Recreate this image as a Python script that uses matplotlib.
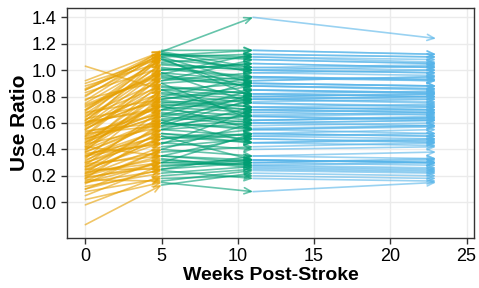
import matplotlib
matplotlib.use("Agg")
import matplotlib.pyplot as plt

plt.rcParams['font.family'] = ['Liberation Sans', 'DejaVu Sans']

# visit times (weeks post-stroke)
weeks = [0, 5.0, 11.0, 23.0]

# use ratio per subject at each visit
wk0 = [0.15, 0.18, 0.20, 0.22, 0.25, 0.28, 0.30, 0.33, 0.35, 0.38,
       0.40, 0.42, 0.45, 0.48, 0.50, 0.52, 0.55, 0.58, 0.60, 0.62,
       0.65, 0.68, 0.70, 0.72, 0.75, 0.78, 0.80, 0.83, 0.85, 0.88,
       0.92, 1.03, -0.17, -0.02, 0.02, 0.05, 0.08, 0.10, 0.12, 0.16,
       0.19, 0.24, 0.27, 0.31, 0.36, 0.41, 0.44, 0.47, 0.53, 0.57,
       0.63, 0.67, 0.73, 0.40, 0.25, 0.20, 0.15, 0.35, 0.45, 0.55,
       0.30, 0.18, 0.60, 0.50, 0.38, 0.70, 0.42, 0.22, 0.27, 0.85,
       0.10, 0.14, 0.21, 0.26, 0.29, 0.34, 0.37, 0.43, 0.46, 0.49,
       0.51, 0.54, 0.56, 0.59, 0.61, 0.64, 0.66, 0.69, 0.74, 0.77,
       0.81, 0.86, 0.90, 0.32, 0.39, 0.17, 0.23, 0.58, 0.48, 0.62]
wk5 = [0.30, 0.55, 0.42, 0.60, 0.25, 0.70, 0.52, 0.80, 0.45, 0.62,
       0.75, 0.35, 0.85, 0.68, 0.95, 0.58, 0.90, 1.00, 0.72, 1.05,
       0.88, 0.78, 1.10, 0.98, 1.08, 0.92, 1.15, 1.02, 1.12, 1.06,
       1.14, 0.85, 0.13, 0.20, 0.15, 0.28, 0.18, 0.32, 0.22, 0.40,
       0.27, 0.48, 0.38, 0.65, 0.50, 0.82, 0.57, 0.73, 0.67, 0.94,
       0.76, 1.04, 0.96, 0.63, 0.45, 0.35, 0.24, 0.55, 0.70, 0.87,
       0.48, 0.30, 0.83, 0.74, 0.60, 1.00, 0.77, 0.33, 0.52, 1.12,
       0.25, 0.40, 0.50, 0.58, 0.35, 0.62, 0.44, 0.90, 0.66, 0.73,
       0.98, 0.60, 0.80, 1.10, 0.70, 1.12, 0.92, 1.08, 0.97, 1.13,
       1.11, 1.14, 1.09, 0.55, 0.85, 0.16, 0.30, 0.78, 0.65, 1.01]
wk11 = [0.32, 0.50, 0.48, 0.55, 0.30, 0.78, 0.45, 0.72, 0.52, 0.65,
        0.80, 0.30, 0.90, 0.62, 0.88, 0.66, 0.95, 1.05, 0.68, 1.00,
        0.82, 0.85, 1.12, 0.92, 1.02, 0.98, 1.15, 0.95, 1.08, 1.10,
        1.40, 0.80, 0.22, 0.25, 0.08, 0.30, 0.20, 0.28, 0.27, 0.35,
        0.32, 0.55, 0.42, 0.58, 0.45, 0.75, 0.62, 0.78, 0.60, 0.88,
        0.70, 1.00, 0.90, 0.68, 0.40, 0.32, 0.18, 0.60, 0.65, 0.82,
        0.52, 0.28, 0.78, 0.70, 0.56, 1.05, 0.72, 0.26, 0.48, 1.10,
        0.35, 0.60, 0.32, 0.78, 0.50, 0.45, 0.70, 0.62, 0.85, 0.55,
        0.75, 0.82, 0.95, 0.90, 0.92, 1.00, 1.08, 0.85, 1.12, 0.98,
        1.15, 1.02, 0.80, 0.72, 0.65, 0.24, 0.52, 0.88, 0.76, 0.94]
wk23 = [0.30, 0.52, 0.45, 0.58, 0.28, 0.75, 0.48, 0.70, 0.55, 0.62,
        0.82, 0.33, 0.88, 0.65, 0.85, 0.68, 0.92, 1.02, 0.70, 0.98,
        0.80, 0.83, 1.10, 0.95, 1.00, 0.96, 1.12, 0.93, 1.05, 1.08,
        1.24, 0.78, 0.20, 0.23, 0.15, 0.32, 0.18, 0.30, 0.25, 0.38,
        0.30, 0.52, 0.45, 0.60, 0.43, 0.72, 0.64, 0.76, 0.62, 0.86,
        0.72, 1.03, 0.88, 0.66, 0.42, 0.30, 0.16, 0.58, 0.67, 0.80,
        0.50, 0.26, 0.80, 0.68, 0.58, 1.02, 0.74, 0.24, 0.46, 1.06,
        0.33, 0.62, 0.30, 0.80, 0.48, 0.47, 0.68, 0.64, 0.82, 0.57,
        0.73, 0.84, 0.93, 0.88, 0.95, 0.98, 1.05, 0.83, 1.10, 1.00,
        1.12, 1.04, 0.82, 0.70, 0.63, 0.22, 0.50, 0.86, 0.78, 0.92]

seg_colors = ['#E69F00', '#009E73', '#56B4E9']

fig = plt.figure(figsize=(4.79, 2.88), dpi=100)
ax = fig.add_axes([0.14, 0.174, 0.85, 0.798])

visits = [wk0, wk5, wk11, wk23]
for k in range(3):
    for a, b in zip(visits[k], visits[k + 1]):
        ax.annotate('', xy=(weeks[k + 1], b), xytext=(weeks[k], a),
                    arrowprops=dict(arrowstyle='->,head_length=0.5,head_width=0.22',
                                    color=seg_colors[k], alpha=0.6, lw=1.2,
                                    shrinkA=0, shrinkB=0))

ax.set_xlim(-1.2, 25.5)
ax.set_ylim(-0.27, 1.47)
ax.set_xticks([0, 5, 10, 15, 20, 25])
ax.set_yticks([0.0, 0.2, 0.4, 0.6, 0.8, 1.0, 1.2, 1.4])
ax.set_yticklabels(['0.0', '0.2', '0.4', '0.6', '0.8', '1.0', '1.2', '1.4'])
ax.grid(True, color='#EBEBEB', lw=1.0)
ax.set_axisbelow(True)
for s in ax.spines.values():
    s.set_color('#333333')
    s.set_linewidth(1.0)
ax.tick_params(colors='#333333', labelcolor='black', labelsize=13, length=4, width=1)
ax.set_xlabel('Weeks Post-Stroke', fontsize=14, fontweight='bold', labelpad=1)
ax.set_ylabel('Use Ratio', fontsize=15, fontweight='bold', labelpad=2)

fig.savefig('out.png', dpi=100)
